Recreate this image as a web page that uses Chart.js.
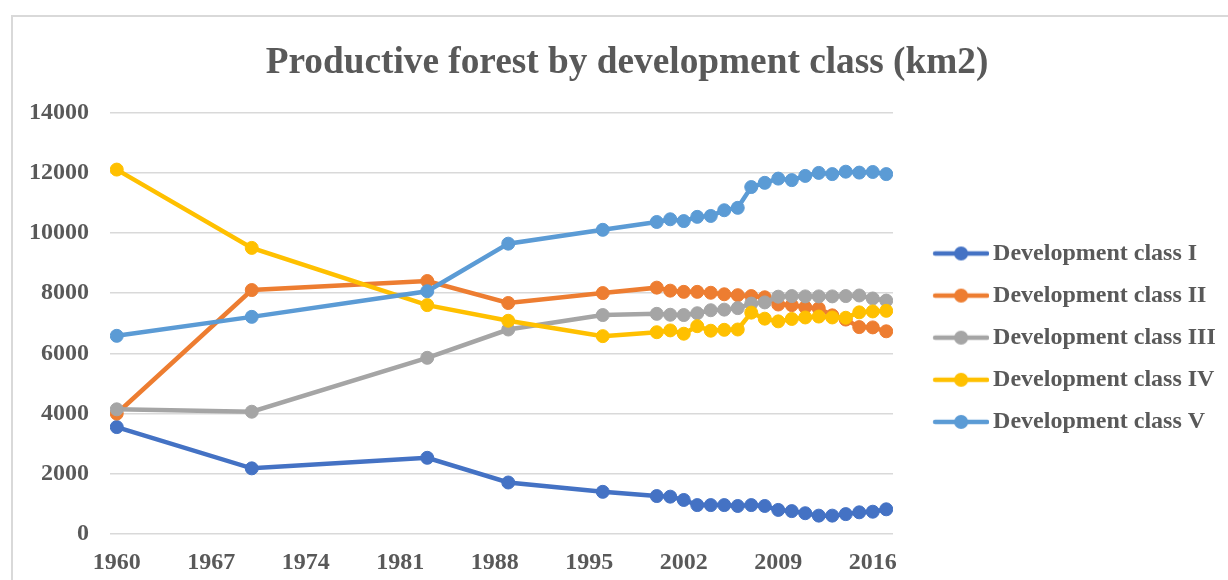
<!DOCTYPE html>
<html>
<head>
<meta charset="utf-8">
<title>Productive forest by development class</title>
<script src="https://cdn.jsdelivr.net/npm/chart.js@4.4.1/dist/chart.umd.min.js"></script>
<style>
    html, body { margin: 0; padding: 0; background: #fff; overflow: hidden; }
    #wrap { position: relative; width: 1228px; height: 580px; }
    #frame {
        position: absolute; left: 11px; top: 15px;
        width: 1400px; height: 800px;
        border: 2px solid #d9d9d9; box-sizing: border-box;
    }
    #forestChart { position: absolute; left: 0; top: 0; }
</style>
</head>
<body>
<div id="wrap">
    <div id="frame"></div>
    <canvas id="forestChart"></canvas>
</div>
<script>
// Survey years (uneven spacing before 2000, yearly afterwards)
const years = [1960, 1970, 1983, 1989, 1996, 2000, 2001, 2002, 2003, 2004, 2005, 2006,
               2007, 2008, 2009, 2010, 2011, 2012, 2013, 2014, 2015, 2016, 2017];

// Area per development class, km2
const classI   = [3550, 2180, 2530, 1710, 1400, 1260, 1240, 1130, 960, 960, 960, 930,
                  960, 930, 800, 760, 690, 610, 610, 660, 720, 740, 820];
const classII  = [4000, 8100, 8400, 7670, 8000, 8180, 8080, 8040, 8040, 8010, 7960, 7930,
                  7900, 7860, 7620, 7600, 7530, 7490, 7260, 7120, 6870, 6860, 6730];
const classIII = [4140, 4060, 5850, 6790, 7270, 7310, 7280, 7270, 7330, 7430, 7450, 7500,
                  7650, 7690, 7880, 7900, 7890, 7890, 7890, 7900, 7920, 7820, 7750];
const classIV  = [12100, 9500, 7600, 7080, 6570, 6700, 6760, 6650, 6900, 6750, 6780, 6790,
                  7350, 7150, 7060, 7140, 7190, 7220, 7190, 7180, 7360, 7390, 7410];
const classV   = [6580, 7210, 8060, 9640, 10100, 10360, 10450, 10390, 10530, 10560, 10750, 10830,
                  11520, 11660, 11800, 11750, 11890, 11990, 11950, 12030, 12000, 12020, 11950];

const seriesNames = ['Development class I', 'Development class II', 'Development class III',
                     'Development class IV', 'Development class V'];
const seriesValues = [classI, classII, classIII, classIV, classV];
const seriesColors = ['#4472c4', '#ed7d31', '#a5a5a5', '#ffc000', '#5b9bd5'];

// Axis ticks
const xTickYears = [1960, 1967, 1974, 1981, 1988, 1995, 2002, 2009, 2016];
const yTickValues = [0, 2000, 4000, 6000, 8000, 10000, 12000, 14000];

Chart.defaults.font.family = "'Liberation Serif', 'Times New Roman', serif";
Chart.defaults.font.weight = 'bold';
Chart.defaults.color = '#595959';

// Legend swatch: a short line with a marker on it
function legendSample(color) {
    const c = document.createElement('canvas');
    c.width = 86;
    c.height = 16;
    const g = c.getContext('2d');
    g.strokeStyle = color;
    g.lineWidth = 4.5;
    g.lineCap = 'round';
    g.beginPath();
    g.moveTo(32, 8);
    g.lineTo(84, 8);
    g.stroke();
    g.fillStyle = color;
    g.beginPath();
    g.arc(58, 8, 7, 0, Math.PI * 2);
    g.fill();
    return c;
}

const datasets = seriesNames.map((name, i) => ({
    label: name,
    data: years.map((year, j) => ({ x: year, y: seriesValues[i][j] })),
    borderColor: seriesColors[i],
    backgroundColor: seriesColors[i],
    pointBackgroundColor: seriesColors[i],
    pointBorderColor: seriesColors[i],
    borderWidth: 4.5,
    pointRadius: 6.5,
    pointBorderWidth: 1,
    tension: 0,
    order: seriesNames.length - i   // later classes drawn on top
}));

const canvas = document.getElementById('forestChart');
canvas.width = 1228;
canvas.height = 580;

new Chart(canvas.getContext('2d'), {
    type: 'line',
    data: { datasets: datasets },
    options: {
        responsive: false,
        animation: false,
        layout: {
            padding: { left: 29, right: 3, top: 0, bottom: 5 }
        },
        plugins: {
            title: {
                display: true,
                text: 'Productive forest by development class (km2)',
                font: { size: 37.3, weight: 'bold' },
                color: '#595959',
                padding: { top: 40.5, bottom: 27.1 }
            },
            legend: {
                position: 'right',
                fullSize: false,
                maxWidth: 332,
                // empty title only acts as a spacer above the items
                title: { display: true, text: '', padding: 7.3 },
                labels: {
                    usePointStyle: true,
                    pointStyleWidth: 70,
                    padding: 18.1,
                    color: '#595959',
                    font: { size: 24, weight: 'bold' },
                    sort: (a, b) => a.datasetIndex - b.datasetIndex,
                    generateLabels: chart => {
                        const items = Chart.defaults.plugins.legend.labels.generateLabels(chart);
                        return items.map(item => ({
                            ...item,
                            pointStyle: legendSample(seriesColors[item.datasetIndex])
                        }));
                    }
                }
            },
            tooltip: { enabled: false }
        },
        scales: {
            x: {
                type: 'linear',
                min: 1959.5,
                max: 2017.5,
                grid: { display: false },
                border: { display: false },
                afterBuildTicks: axis => {
                    axis.ticks = xTickYears.map(v => ({ value: v }));
                },
                afterFit: axis => { axis.height = 41; },
                ticks: {
                    padding: 6,
                    maxRotation: 0,
                    autoSkip: false,
                    font: { size: 24, weight: 'bold' },
                    color: '#595959',
                    callback: value => String(value)
                }
            },
            y: {
                min: 0,
                max: 14000,
                grid: { color: '#d9d9d9', lineWidth: 1.5, drawTicks: false },
                border: { display: false },
                afterBuildTicks: axis => {
                    axis.ticks = yTickValues.map(v => ({ value: v }));
                },
                afterFit: axis => { axis.width = 81; },
                ticks: {
                    padding: 21,
                    font: { size: 24, weight: 'bold' },
                    color: '#595959',
                    callback: value => String(value)
                }
            }
        }
    }
});
</script>
</body>
</html>
